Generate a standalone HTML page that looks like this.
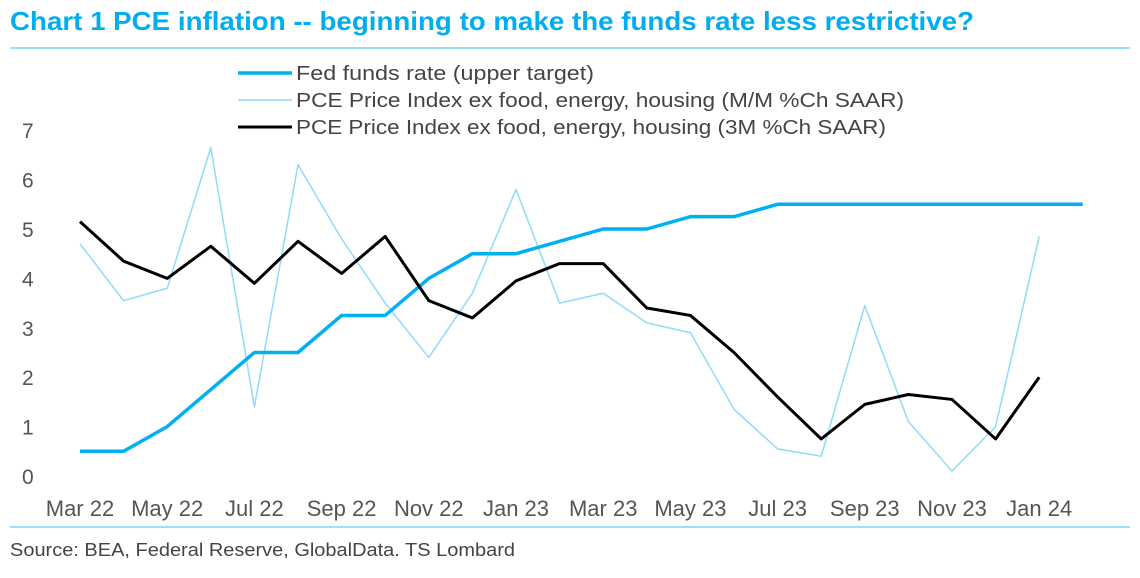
<!DOCTYPE html>
<html><head><meta charset="utf-8"><style>
body{margin:0;background:#fff;font-family:"Liberation Sans",sans-serif;}
svg text{font-family:"Liberation Sans",sans-serif;}
</style></head><body>
<svg width="1140" height="573">
<text x="10" y="30" font-size="26" font-weight="bold" fill="#00AEEF" textLength="964" lengthAdjust="spacingAndGlyphs">Chart 1 PCE inflation -- beginning to make the funds rate less restrictive?</text>
<line x1="10" y1="48" x2="1130" y2="48" stroke="#7fd4f7" stroke-width="1.5"/>
<line x1="10" y1="527" x2="1130" y2="527" stroke="#7fd4f7" stroke-width="1.5"/>
<text x="10" y="556" font-size="18" fill="#444" textLength="505" lengthAdjust="spacingAndGlyphs">Source: BEA, Federal Reserve, GlobalData. TS Lombard</text>
<g id="yaxis"></g>
<g id="xaxis"></g>
<g id="series"></g>
<g>
<line x1="238" y1="73" x2="292" y2="73" stroke="#00B0F0" stroke-width="3.5"/>
<text x="296" y="80" font-size="20" fill="#444" textLength="298" lengthAdjust="spacingAndGlyphs">Fed funds rate (upper target)</text>
<line x1="238" y1="100" x2="292" y2="100" stroke="#8fdcf7" stroke-width="1.5"/>
<text x="296" y="107" font-size="20" fill="#444" textLength="608" lengthAdjust="spacingAndGlyphs">PCE Price Index ex food, energy, housing (M/M %Ch SAAR)</text>
<line x1="238" y1="127" x2="292" y2="127" stroke="#000" stroke-width="3"/>
<text x="296" y="134" font-size="20" fill="#444" textLength="590" lengthAdjust="spacingAndGlyphs">PCE Price Index ex food, energy, housing (3M %Ch SAAR)</text>
</g>
</svg>
<script>
const yTicks=[0,1,2,3,4,5,6,7];
const xLabels=["Mar 22","May 22","Jul 22","Sep 22","Nov 22","Jan 23","Mar 23","May 23","Jul 23","Sep 23","Nov 23","Jan 24"];
const fedFunds=[0.5,0.5,1.0,1.75,2.5,2.5,3.25,3.25,4.0,4.5,4.5,4.75,5.0,5.0,5.25,5.25,5.5,5.5,5.5,5.5,5.5,5.5,5.5,5.5];
const pceMM=[4.7,3.55,3.8,6.65,1.4,6.3,4.8,3.5,2.4,3.7,5.8,3.5,3.7,3.1,2.9,1.35,0.55,0.4,3.45,1.1,0.1,1.0,4.85];
const pce3M=[5.15,4.35,4.0,4.65,3.9,4.75,4.1,4.85,3.55,3.2,3.95,4.3,4.3,3.4,3.25,2.5,1.6,0.75,1.45,1.65,1.55,0.75,2.0];
const NS="http://www.w3.org/2000/svg";
const X=i=>80+i*43.6, Y=v=>476-v*49.4;
const ya=document.getElementById('yaxis'),xa=document.getElementById('xaxis'),sg=document.getElementById('series');
yTicks.forEach(t=>{const e=document.createElementNS(NS,'text');


e.setAttribute('x',22);e.setAttribute('y',Y(t)+8);e.setAttribute('font-size','21');e.setAttribute('fill','#555');e.textContent=t;ya.appendChild(e);});
xLabels.forEach((l,i)=>{const e=document.createElementNS(NS,'text');


e.setAttribute('x',X(i*2));e.setAttribute('y',516);e.setAttribute('font-size','22');e.setAttribute('fill','#555');e.setAttribute('text-anchor','middle');e.textContent=l;xa.appendChild(e);});
function line(d,c,w,n){const p=document.createElementNS(NS,'polyline');


p.setAttribute('points',d.map((v,i)=>X(i)+','+Y(v)).join(' '));p.setAttribute('fill','none');p.setAttribute('stroke',c);p.setAttribute('stroke-width',w);p.setAttribute('stroke-linejoin','round');sg.appendChild(p);}
line(pceMM,'#8fdcf7',1.5,'pce-mm-line');
line(fedFunds,'#00B0F0',3.5,'fed-funds-line');
line(pce3M,'#000',3,'pce-3m-line');
</script>
</body></html>
